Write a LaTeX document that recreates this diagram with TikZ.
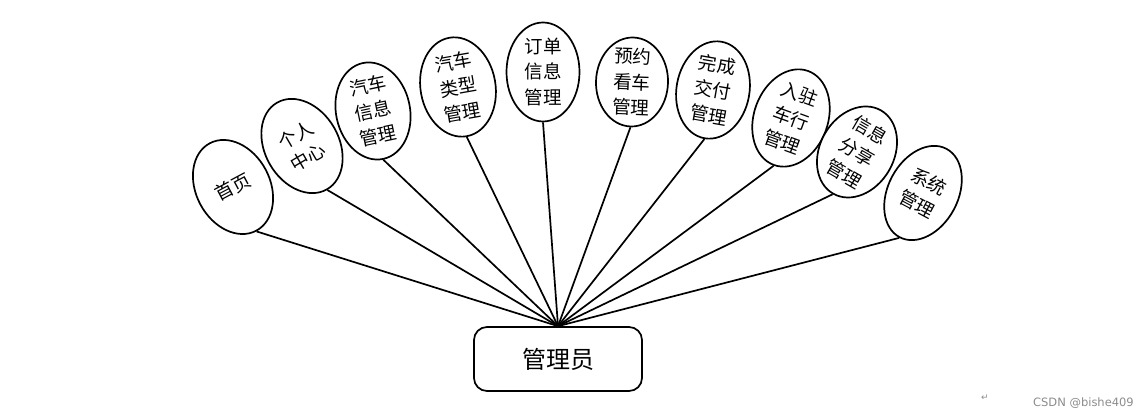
\documentclass[tikz,border=0pt]{standalone}
\usepackage{fontspec}
\newfontfamily\cjk{Noto Sans CJK SC}
\newfontfamily\dejavu{DejaVu Sans}
\usetikzlibrary{shapes.geometric}
\begin{document}
\begin{tikzpicture}[x=1pt,y=1pt,
  ell/.style={draw=black, line width=1.7pt, ellipse, inner sep=0pt, fill=white},
  txt/.style={inner sep=0pt, align=center, font=\cjk\fontsize{18.5}{25.5}\selectfont},
  rootbox/.style={draw=black, line width=1.7pt, rounded corners=13pt, minimum width=168pt, minimum height=64pt, inner sep=0pt, font=\cjk\fontsize{24}{28}\selectfont},
  conn/.style={draw=black, line width=1.7pt},
  wm/.style={inner sep=0pt, text=black!45}
]
\useasboundingbox (0,0) rectangle (1148,419);

\node[rootbox] (root) at (558,60) {管理员};

\node[ell, minimum width=74pt, minimum height=99pt, rotate=28] (e1) at (233,232) {};
\node[txt, rotate=28] (t1) at (e1.center) {首页};
\node[ell, minimum width=74pt, minimum height=100pt, rotate=30] (e2) at (302,273) {};
\node[txt, rotate=30] (t2) at (e2.center) {个人\\中心};
\node[ell, minimum width=74pt, minimum height=98pt, rotate=12] (e3) at (373,308) {};
\node[txt, rotate=12] (t3) at (e3.center) {汽车\\信息\\管理};
\node[ell, minimum width=75pt, minimum height=100pt, rotate=10] (e4) at (458,332) {};
\node[txt, rotate=10] (t4) at (e4.center) {汽车\\类型\\管理};
\node[ell, minimum width=73pt, minimum height=99pt] (e5) at (543,347) {};
\node[txt] (t5) at (e5.center) {订单\\信息\\管理};
\node[ell, minimum width=72pt, minimum height=89pt, rotate=-2] (e6) at (632,337) {};
\node[txt, rotate=-2] (t6) at (e6.center) {预约\\看车\\管理};
\node[ell, minimum width=73pt, minimum height=98pt, rotate=-10] (e7) at (713,329) {};
\node[txt, rotate=-10] (t7) at (e7.center) {完成\\交付\\管理};
\node[ell, minimum width=74pt, minimum height=100pt, rotate=-20] (e8) at (791,301) {};
\node[txt, rotate=-20] (t8) at (e8.center) {入驻\\车行\\管理};
\node[ell, minimum width=74pt, minimum height=96pt, rotate=-30] (e9) at (857,267) {};
\node[txt, rotate=-30] (t9) at (e9.center) {信息\\分享\\管理};
\node[ell, minimum width=70pt, minimum height=100pt, rotate=-28] (e10) at (923,226) {};
\node[txt, rotate=-28] (t10) at (e10.center) {系统\\管理};

\foreach \i in {1,...,10}{
  \draw[conn] (root.north) -- (e\i.south);
}

\node[wm, font=\dejavu\fontsize{9}{10}\selectfont] (pm) at (985,21) {↵};
\node[wm, font=\dejavu\fontsize{11.5}{13}\selectfont, anchor=east] (csdn) at (1134,16) {CSDN @bishe409};
\end{tikzpicture}
\end{document}
